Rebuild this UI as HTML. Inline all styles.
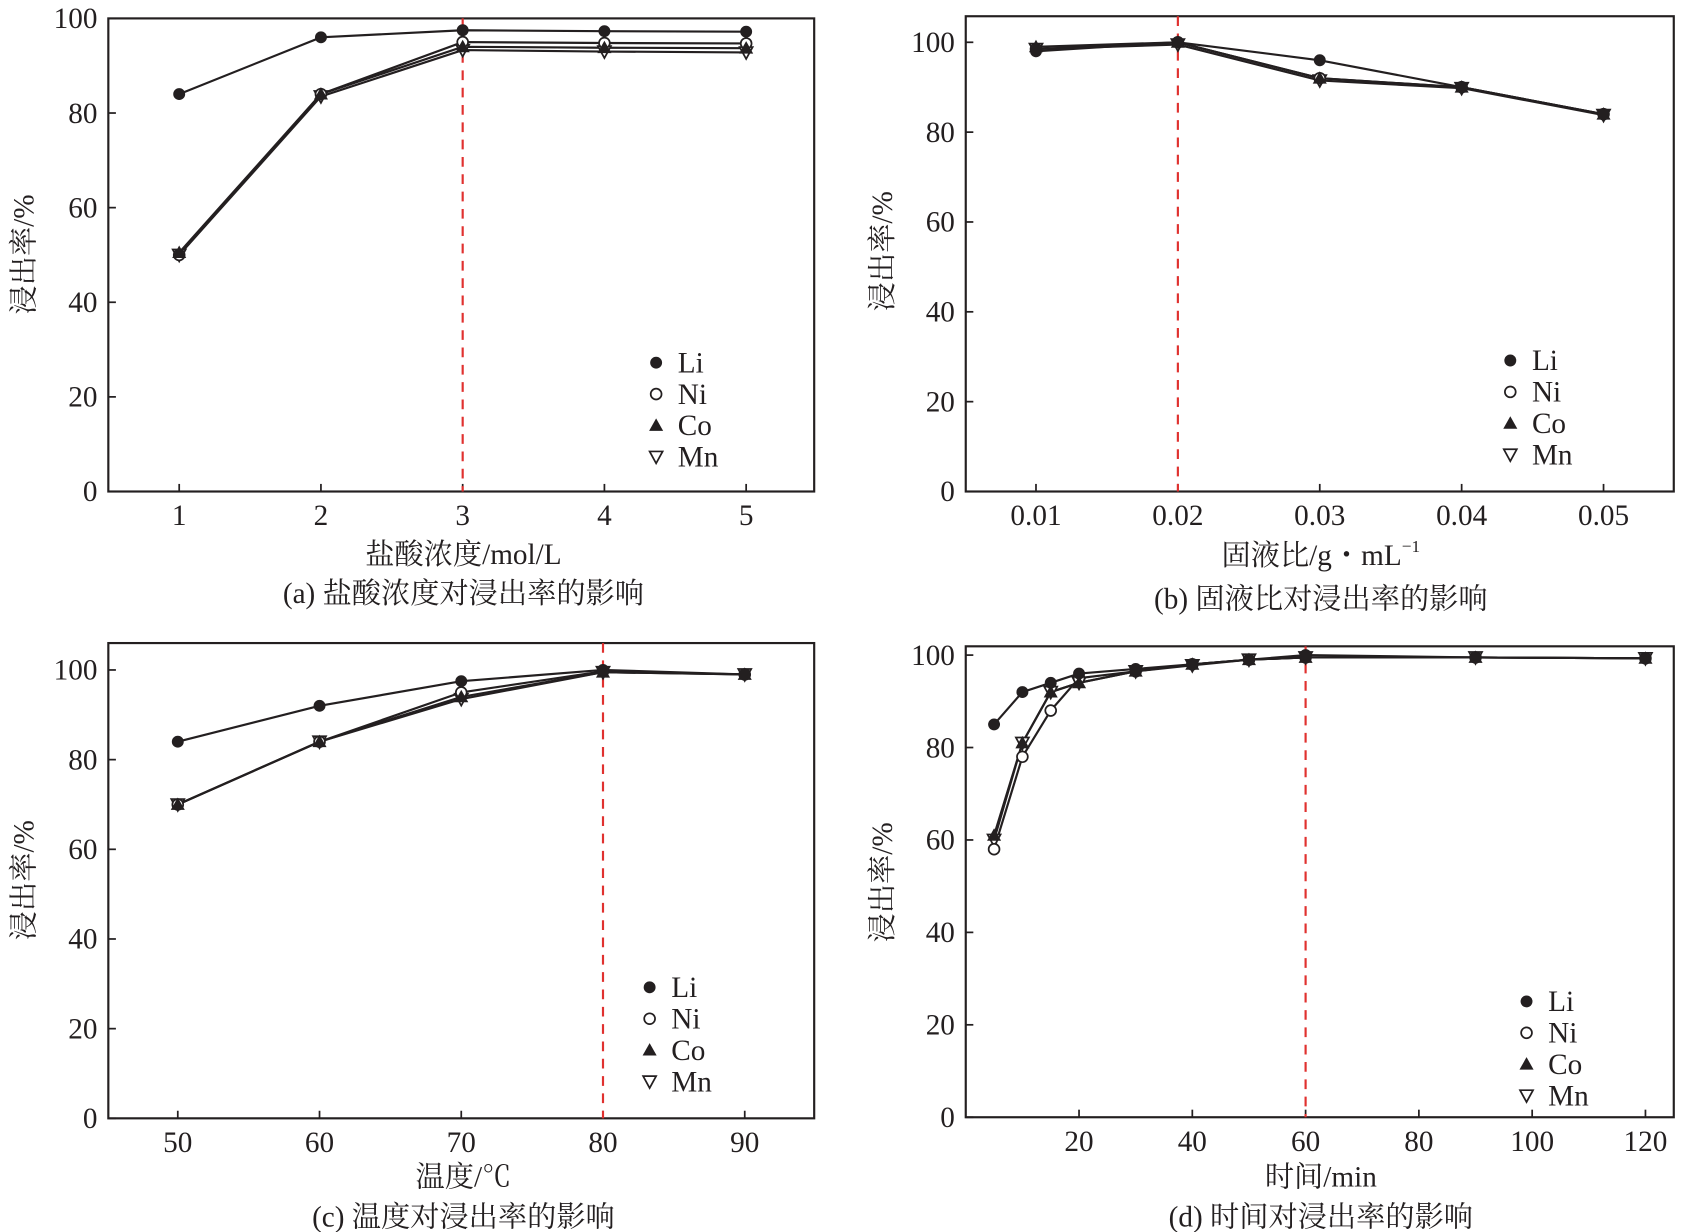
<!DOCTYPE html>
<html><head><meta charset="utf-8"><style>
html,body{margin:0;padding:0;background:#fff;}
svg{display:block;}
text{font-family:"Liberation Serif","Noto Serif CJK SC",serif;fill:#231f20;}
</style></head><body>
<svg id="fig" width="1689" height="1232" viewBox="0 0 1560 1138" xmlns="http://www.w3.org/2000/svg"></svg>
<script>
// Panel (a)
const xA = [1,2,3,4,5];
const liA = [84,96,97.5,97.3,97.2];
const niA = [50,84,95,94.8,94.7];
const coA = [50.5,84,94,93.8,93.7];
const mnA = [50,83.5,93.3,93,92.8];
const xTicksA = [1,2,3,4,5];
// Panel (b)
const xB = [0.01,0.02,0.03,0.04,0.05];
const liB = [98,100,96,90,84];
const niB = [98.5,100,92,90,84];
const coB = [99,100,92,90,84];
const mnB = [98.5,99.5,91.5,89.8,83.8];
const xTicksB = ["0.01","0.02","0.03","0.04","0.05"];
// Panel (c)
const xC = [50,60,70,80,90];
const liC = [84,92,97.5,100,99];
const niC = [70,84,95,99.7,99];
const coC = [70,84,94,99.5,99];
const mnC = [70,84,93.5,99.5,99];
const xTicksC = [50,60,70,80,90];
// Panel (d)
const xD = [5,10,15,20,30,40,50,60,90,120];
const liD = [85,92,94,96,97,98,99,100,99.5,99.3];
const niD = [58,78,88,95,96.5,98,99,99.5,99.5,99.3];
const coD = [61,81,92,94,96.5,98,99,99.5,99.5,99.3];
const mnD = [60,81,92,94,96.5,97.8,99,99.5,99.5,99.3];
const xTicksD = [20,40,60,80,100,120];
const yTicks = [0,20,40,60,80,100];
const seriesNames = ["Li","Ni","Co","Mn"];

const NS="http://www.w3.org/2000/svg";
const svg=document.getElementById('fig');
function mk(tag,attrs,parent){const e=document.createElementNS(NS,tag);for(const k in attrs)e.setAttribute(k,attrs[k]);(parent||svg).appendChild(e);return e;}

function marker(g,type,x,y){
  let e;
  if(type===0){e=mk('circle',{cx:x,cy:y,r:5.5,fill:'#231f20'},g);}
  else if(type===1){e=mk('circle',{cx:x,cy:y,r:5,fill:'#fff',stroke:'#231f20','stroke-width':1.6},g);}
  else if(type===2){e=mk('polygon',{points:`${x-6.5},${y+5} ${x+6.5},${y+5} ${x},${y-6.5}`,fill:'#231f20'},g);}
  else {e=mk('polygon',{points:`${x-6},${y-5} ${x+6},${y-5} ${x},${y+6}`,fill:'#fff',stroke:'#231f20','stroke-width':1.6},g);}
  return e;
}

function panel(p){
  const g=mk('g',{});
  
  
  const sx=v=>p.L+(v-p.x0)/(p.x1-p.x0)*(p.R-p.L);
  const sy=v=>p.B-(v-0)/(p.y1-0)*(p.B-p.T);
  const fr=mk('rect',{x:p.L,y:p.T,width:p.R-p.L,height:p.B-p.T,fill:'none',stroke:'#231f20','stroke-width':2},g);
  
  
  yTicks.forEach(v=>{
    const y=sy(v);
    mk('line',{x1:p.L,x2:p.L+7,y1:y,y2:y,stroke:'#231f20','stroke-width':1.6},g);
    const t=mk('text',{x:p.L-10,y:y+9,'font-size':27,'text-anchor':'end'},g);t.textContent=v;
    
    
  });
  p.xt.forEach(v=>{
    const x=sx(parseFloat(v));
    mk('line',{x1:x,x2:x,y1:p.B,y2:p.B-7,stroke:'#231f20','stroke-width':1.6},g);
    const t=mk('text',{x:x,y:p.B+31,'font-size':27,'text-anchor':'middle'},g);t.textContent=v;
    
    
  });
  const dl=mk('line',{x1:sx(p.opt),x2:sx(p.opt),y1:p.T,y2:p.B,stroke:'#e0312f','stroke-width':2,'stroke-dasharray':'9,7'},g);
  
  
  p.series.forEach((ys,si)=>{
    const pts=p.x.map((xv,i)=>sx(xv)+','+sy(ys[i])).join(' ');
    const l=mk('polyline',{points:pts,fill:'none',stroke:'#231f20','stroke-width':2},g);
    
    
  });
  [3,1,2,0].forEach(si=>{
    const ys=p.series[si];
    p.x.forEach((xv,i)=>{
      const m=marker(g,si,sx(xv),sy(ys[i]));
      
      
    });
  });
  seriesNames.forEach((n,i)=>{
    const y=p.lg[1]+i*29;
    const m=marker(g,i,p.lg[0],y);
    
    
    const t=mk('text',{x:p.lg[0]+20,y:y+9,'font-size':27},g);t.textContent=n;
    
    
  });
  const yl=mk('text',{x:0,y:0,'font-size':27,'text-anchor':'middle',transform:`translate(${p.yl[0]+9},${p.yl[1]}) rotate(-90)`},g);
  yl.textContent='浸出率/%';
  
  
  const xl=mk('text',{x:p.xl[0],y:p.xl[1]+9,'font-size':27,'text-anchor':'middle'},g);
  xl.innerHTML=p.xlabel;
  
  
  const cp=mk('text',{x:p.xl[0],y:p.cy+9,'font-size':27,'text-anchor':'middle'},g);
  cp.textContent=p.cap;
  
  
}

panel({id:'a',L:100,R:752,T:17,B:454,x0:0.5,x1:5.48,y1:100,x:xA,series:[liA,niA,coA,mnA],xt:xTicksA,opt:3,
  lg:[606,335],yl:[22,235],xl:[428,512],cy:548,xlabel:'盐酸浓度/mol/L',cap:'(a) 盐酸浓度对浸出率的影响'});
panel({id:'b',L:892,R:1546,T:15,B:454,x0:0.00505,x1:0.05495,y1:105.8,x:xB,series:[liB,niB,coB,mnB],xt:xTicksB,opt:0.02,
  lg:[1395,333],yl:[815,232],xl:[1220,513],cy:553,xlabel:'固液比/g・mL<tspan font-size="16" dy="-12">−1</tspan>',cap:'(b) 固液比对浸出率的影响'});
panel({id:'c',L:100,R:752,T:594,B:1033,x0:45.1,x1:94.9,y1:106,x:xC,series:[liC,niC,coC,mnC],xt:xTicksC,opt:80,
  lg:[600,912],yl:[22,813],xl:[428,1087],cy:1124,xlabel:'温度/℃',cap:'(c) 温度对浸出率的影响'});
panel({id:'d',L:892,R:1546,T:597,B:1032,x0:0,x1:125,y1:101.9,x:xD,series:[liD,niD,coD,mnD],xt:xTicksD,opt:60,
  lg:[1410,925],yl:[815,815],xl:[1220,1087],cy:1124,xlabel:'时间/min',cap:'(d) 时间对浸出率的影响'});
</script>
</body></html>
